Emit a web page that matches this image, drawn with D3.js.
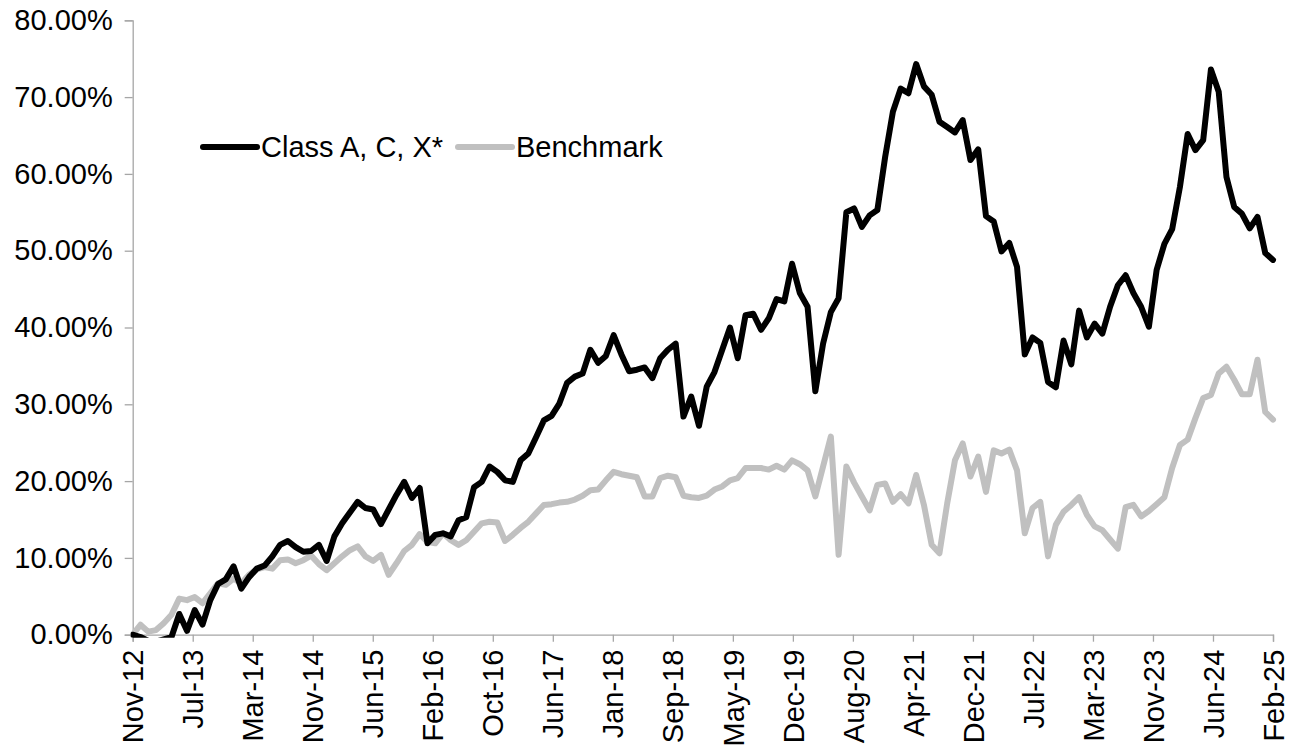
<!DOCTYPE html>
<html>
<head>
<meta charset="utf-8">
<script src="https://cdn.jsdelivr.net/npm/d3@7"></script>
<style>
  html, body { margin: 0; padding: 0; background: #fff; }
  svg { display: block; }
  text { font-family: "Liberation Sans", Arial, Helvetica, sans-serif; fill: #000; }
</style>
</head>
<body>
<svg id="chart" width="1291" height="748"></svg>
<script>
// ---- Data ----
const seriesNames = ["Class A, C, X*", "Benchmark"];
const seriesColors = ["#000000", "#c0c0c0"];

// Monthly cumulative returns (%), Nov-12 .. Feb-25 (148 months)
const classACX = [
  0.0, -0.3, -0.8, -0.9, -0.6, -0.3, 2.7, 0.5, 3.2, 1.3,
  4.5, 6.6, 7.2, 8.9, 6.0, 7.5, 8.6, 9.0, 10.2, 11.7,
  12.2, 11.4, 10.8, 10.9, 11.7, 9.6, 12.8, 14.5, 15.9, 17.3,
  16.5, 16.3, 14.4, 16.3, 18.2, 19.9, 17.8, 19.1, 11.9, 13.0,
  13.2, 12.8, 14.9, 15.3, 19.2, 19.9, 21.9, 21.2, 20.1, 19.9,
  22.7, 23.6, 25.7, 27.9, 28.5, 30.1, 32.8, 33.6, 34.0, 37.1,
  35.4, 36.3, 39.0, 36.5, 34.3, 34.5, 34.8, 33.4, 36.0, 37.1,
  37.9, 28.4, 31.0, 27.2, 32.3, 34.2, 37.1, 40.0, 36.0, 41.6,
  41.8, 39.7, 41.2, 43.7, 43.4, 48.3, 44.5, 42.7, 31.7, 37.9,
  42.0, 43.8, 55.0, 55.5, 53.1, 54.6, 55.3, 62.2, 68.1, 71.1,
  70.5, 74.3, 71.4, 70.3, 66.8, 66.1, 65.4, 67.0, 61.8, 63.2,
  54.5, 53.8, 49.9, 51.0, 47.9, 36.5, 38.7, 38.0, 32.9, 32.2,
  38.3, 35.2, 42.2, 38.7, 40.5, 39.2, 42.7, 45.5, 46.8, 44.5,
  42.7, 40.1, 47.5, 50.9, 52.8, 58.3, 65.2, 63.1, 64.4, 73.6,
  70.7, 59.6, 55.7, 54.8, 52.9, 54.4, 49.7, 48.8
];
const benchmark = [
  0.0, 1.3, 0.4, 0.6, 1.5, 2.6, 4.7, 4.5, 4.9, 4.1,
  5.4, 6.7, 6.5, 7.3, 6.7, 7.8, 8.5, 8.8, 8.6, 9.7,
  9.8, 9.3, 9.7, 10.3, 9.2, 8.4, 9.3, 10.2, 11.0, 11.5,
  10.2, 9.6, 10.4, 7.8, 9.3, 10.9, 11.7, 13.1, 12.1, 11.9,
  13.2, 12.3, 11.7, 12.3, 13.4, 14.5, 14.7, 14.6, 12.2, 13.0,
  13.9, 14.7, 15.8, 16.9, 17.0, 17.2, 17.3, 17.6, 18.1, 18.8,
  18.9, 20.1, 21.2, 20.9, 20.7, 20.5, 18.0, 18.0, 20.4, 20.7,
  20.5, 18.1, 17.9, 17.8, 18.1, 18.9, 19.3, 20.1, 20.4, 21.7,
  21.7, 21.7, 21.5, 22.0, 21.5, 22.7, 22.2, 21.4, 18.0, 21.9,
  25.8, 10.4, 21.9, 19.8, 18.0, 16.2, 19.5, 19.7, 17.3, 18.3,
  17.1, 20.8, 16.9, 11.7, 10.6, 17.1, 22.7, 24.9, 20.6, 23.2,
  18.6, 24.0, 23.6, 24.1, 21.4, 13.2, 16.5, 17.3, 10.2, 14.3,
  16.0, 16.9, 17.9, 15.6, 14.1, 13.6, 12.4, 11.2, 16.6, 16.9,
  15.4, 16.1, 17.0, 17.9, 21.7, 24.7, 25.4, 28.2, 30.8, 31.2,
  34.0, 34.9, 33.2, 31.3, 31.3, 35.8, 29.0, 28.0
];

const xTickLabels = ["Nov-12","Jul-13","Mar-14","Nov-14","Jun-15","Feb-16","Oct-16","Jun-17",
  "Jan-18","Sep-18","May-19","Dec-19","Aug-20","Apr-21","Dec-21","Jul-22","Mar-23","Nov-23",
  "Jun-24","Feb-25"];
const yTicks = [0, 10, 20, 30, 40, 50, 60, 70, 80];

// ---- Layout ----
const W = 1291, H = 748;
const margin = { left: 132.7, right: 18, top: 20.3, bottom: 113.3 };
const innerW = W - margin.left - margin.right;
const innerH = H - margin.top - margin.bottom;
const fontSize = 29;
const axisColor = "#a6a6a6";

const svg = d3.select("#chart");
const g = svg.append("g").attr("transform", `translate(${margin.left},${margin.top})`);

const n = classACX.length;
const x = d3.scaleLinear().domain([0, n - 1]).range([0, innerW]);
const y = d3.scaleLinear().domain([0, 80]).range([innerH, 0]);

svg.append("defs").append("clipPath").attr("id", "plotClip")
  .append("rect").attr("x", -2).attr("y", -10).attr("width", innerW + 6).attr("height", innerH + 13);

// Y axis
const yAxis = d3.axisLeft(y).tickValues(yTicks).tickSize(8).tickPadding(12)
  .tickFormat(d => d3.format(".2f")(d) + "%");
const yg = g.append("g").call(yAxis);
yg.select(".domain").attr("stroke", axisColor).attr("stroke-width", 1.3);
yg.selectAll(".tick line").attr("stroke", axisColor).attr("stroke-width", 1.3);
yg.selectAll(".tick text").attr("font-size", fontSize).attr("fill", "#000")
  .style("font-family", '"Liberation Sans", Arial, sans-serif');

// X axis: labels evenly spaced along the month index
const tickPos = xTickLabels.map((_, k) => k * (n - 1) / (xTickLabels.length - 1));
const xAxis = d3.axisBottom(x).tickValues(tickPos).tickSize(7)
  .tickFormat((d, k) => xTickLabels[k]);
const xg = g.append("g").attr("transform", `translate(0,${innerH})`).call(xAxis);
xg.select(".domain").attr("stroke", axisColor).attr("stroke-width", 1.3);
xg.selectAll(".tick line").attr("stroke", axisColor).attr("stroke-width", 1.3);
xg.selectAll(".tick text")
  .attr("font-size", fontSize).attr("fill", "#000")
  .style("font-family", '"Liberation Sans", Arial, sans-serif')
  .attr("text-anchor", "end")
  .attr("transform", "translate(0,15) rotate(-90)")
  .attr("x", 0).attr("y", 0).attr("dy", "0.35em");

// Lines
const line = d3.line().x((d, i) => x(i)).y(d => y(d));
const plot = g.append("g").attr("clip-path", "url(#plotClip)");
[benchmark, classACX].forEach((arr, k) => {
  const idx = k === 0 ? 1 : 0;
  plot.append("path").datum(arr)
    .attr("fill", "none")
    .attr("stroke", seriesColors[idx])
    .attr("stroke-width", 6)
    .attr("stroke-linejoin", "round")
    .attr("stroke-linecap", "round")
    .attr("d", line);
});

// Legend
const legend = svg.append("g");
const legendItems = [
  { x1: 203, x2: 257, tx: 261 },
  { x1: 458, x2: 512, tx: 516 }
];
legendItems.forEach((it, k) => {
  legend.append("line").attr("x1", it.x1).attr("x2", it.x2).attr("y1", 147).attr("y2", 147)
    .attr("stroke", seriesColors[k]).attr("stroke-width", 6).attr("stroke-linecap", "round");
  legend.append("text").attr("x", it.tx).attr("y", 147).attr("dy", "0.35em")
    .attr("font-size", fontSize).text(seriesNames[k]);
});
</script>
</body>
</html>
